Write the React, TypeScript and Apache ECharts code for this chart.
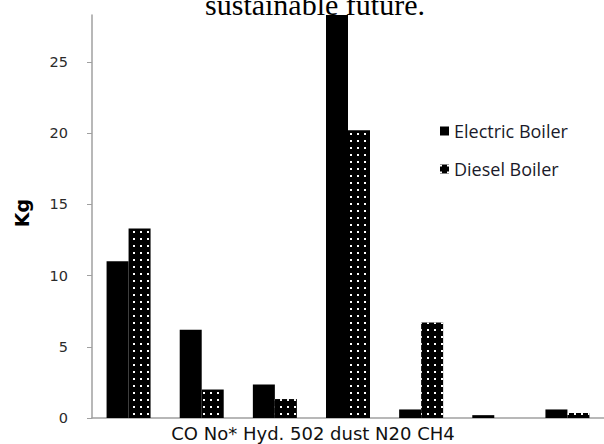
import React, { useEffect, useRef } from "react";
import * as echarts from "echarts";

const categories = ["CO", "No*", "Hyd.", "502", "dust", "N20", "CH4"];
const electricBoiler = [11.0, 6.2, 2.35, 30, 0.6, 0.2, 0.6];
const dieselBoiler = [13.3, 2.0, 1.33, 20.2, 6.7, 0, 0.35];
const yTicks = [0, 5, 10, 15, 20, 25];
const xAxisText = "CO No* Hyd. 502 dust N20 CH4";
const titleText = "sustainable future.";

export default function App() {
  const ref = useRef<HTMLDivElement>(null);
  useEffect(() => {
    if (!ref.current) return;
    const chart = echarts.init(ref.current, null, { renderer: "svg" });
    const dots = {
      symbol: "rect",
      symbolSize: 1,
      color: "#ffffff",
      dashArrayX: [2, 5],
      dashArrayY: [2, 5],
      rotation: 0,
    };
    chart.setOption({
      animation: false,
      backgroundColor: "#ffffff",
      grid: { left: 92, top: 15, width: 525, height: 403 },
      legend: {
        orient: "vertical",
        left: 435,
        top: 117,
        itemWidth: 9,
        itemHeight: 9,
        itemGap: 20,
        icon: "rect",
        textStyle: { fontFamily: "Open Sans", fontSize: 18, color: "#1a1a2a" },
        data: ["Electric Boiler", "Diesel Boiler"],
      },
      xAxis: {
        type: "category",
        data: categories,
        axisLine: { lineStyle: { color: "#a0a0a0", width: 1.5 } },
        axisTick: { show: false },
        axisLabel: { show: false },
      },
      yAxis: {
        type: "value",
        min: 0,
        max: 28.3,
        interval: 5,
        splitLine: { show: false },
        axisLine: { show: true, lineStyle: { color: "#a0a0a0", width: 1.5 } },
        axisTick: {
          show: true,
          length: 5,
          customValues: yTicks,
          lineStyle: { color: "#a0a0a0" },
        },
        axisLabel: {
          customValues: yTicks,
          fontFamily: "DejaVu Sans",
          fontSize: 14.5,
          color: "#2a2a2a",
          margin: 24,
        },
      },
      series: [
        {
          name: "Electric Boiler",
          type: "bar",
          data: electricBoiler,
          barWidth: 22,
          barGap: "0%",
          itemStyle: { color: "#000000" },
        },
        {
          name: "Diesel Boiler",
          type: "bar",
          data: dieselBoiler,
          barWidth: 22,
          barGap: "0%",
          itemStyle: { color: "#000000", decal: dots },
        },
      ],
      graphic: [
        {
          type: "text",
          x: 315,
          y: 19,
          style: {
            text: titleText,
            fontFamily: "Liberation Serif",
            fontSize: 30,
            fill: "#000000",
            align: "center",
            verticalAlign: "bottom",
          },
        },
        {
          type: "text",
          x: 313,
          y: 433,
          style: {
            text: xAxisText,
            fontFamily: "DejaVu Sans",
            fontSize: 18,
            fill: "#111111",
            align: "center",
            verticalAlign: "middle",
          },
        },
        {
          type: "text",
          x: 22,
          y: 213,
          rotation: Math.PI / 2,
          style: {
            text: "Kg",
            fontFamily: "DejaVu Sans",
            fontWeight: "bold",
            fontSize: 19,
            fill: "#000000",
            align: "center",
            verticalAlign: "middle",
          },
        },
      ],
    });
    return () => chart.dispose();
  }, []);
  return (
    <div
      ref={ref}
      style={{ position: "fixed", left: 0, top: 0, width: 604, height: 444 }}
    />
  );
}
